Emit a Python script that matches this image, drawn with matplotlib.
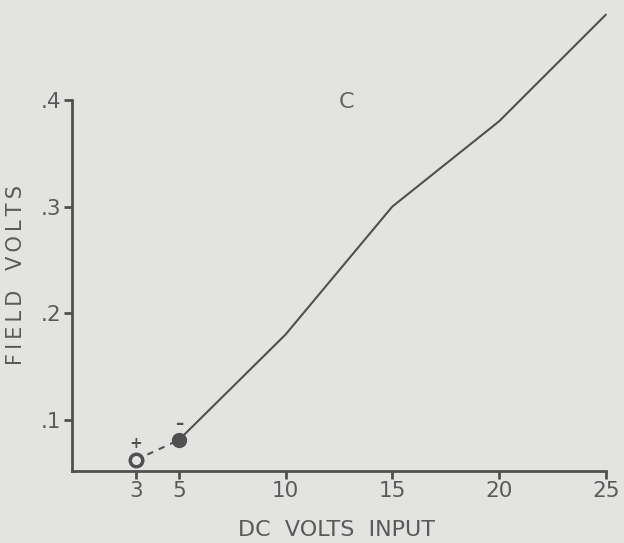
import matplotlib.pyplot as plt

# data
x_main = [5, 10, 15, 20, 25]
y_main = [0.081, 0.18, 0.30, 0.38, 0.48]
x_dash = [3, 5]
y_dash = [0.0625, 0.081]
xticks = [3, 5, 10, 15, 20, 25]
yticks = [0.1, 0.2, 0.3, 0.4]
ytick_labels = ['.1', '.2', '.3', '.4']

bg = '#e3e3e1'
ink = '#505050'
plt.rcParams['font.family'] = ['DejaVu Sans']

fig = plt.figure(figsize=(6.24, 5.43), dpi=100, facecolor=bg)
ax = fig.add_axes([72/624, 72/543, 536/624, 467/543])
ax.set_facecolor(bg)

ax.plot(x_main, y_main, color=ink, lw=1.5, solid_capstyle='round')
ax.plot(x_dash, y_dash, color=ink, lw=1.5, ls=(0, (3, 3)))
ax.plot(3, 0.0625, 'o', ms=9, mfc=bg, mec=ink, mew=2.5)
ax.plot(5, 0.081, 'o', ms=10, color=ink)
ax.text(3, 0.078, '+', ha='center', va='center', fontsize=11, color=ink, fontweight='bold')
ax.text(5, 0.096, '\u2013', ha='center', va='center', fontsize=12, color=ink, fontweight='bold')
ax.text(12.85, 0.398, 'C', ha='center', va='center', fontsize=16, color='#666666')

ax.set_xlim(0, 25.1)
ax.set_ylim(0.052, 0.49)
for s in ['top', 'right']:
    ax.spines[s].set_visible(False)
ax.spines['left'].set_bounds(0.052, 0.4)
ax.spines['bottom'].set_bounds(0, 25)
for s in ['left', 'bottom']:
    ax.spines[s].set_color(ink)
    ax.spines[s].set_linewidth(2)

ax.set_xticks(xticks)
ax.set_yticks(yticks)
ax.set_yticklabels(ytick_labels)
ax.tick_params(colors=ink, labelcolor='#5a5a5a', labelsize=15.5, width=2, length=6)
ax.tick_params(axis='x', pad=1)
ax.tick_params(axis='y', pad=2)

ts = '\u2009'
ax.set_xlabel('DC  VOLTS  INPUT', fontsize=16, color='#5a5a5a')
ax.set_ylabel(ts.join('FIELD') + '   ' + ts.join('VOLTS'), fontsize=15, color='#5a5a5a')
ax.xaxis.set_label_coords(0.494, -49/467)
ax.yaxis.set_label_coords(-46/536, 0.42)

fig.savefig('out.png', dpi=100, facecolor=bg)
